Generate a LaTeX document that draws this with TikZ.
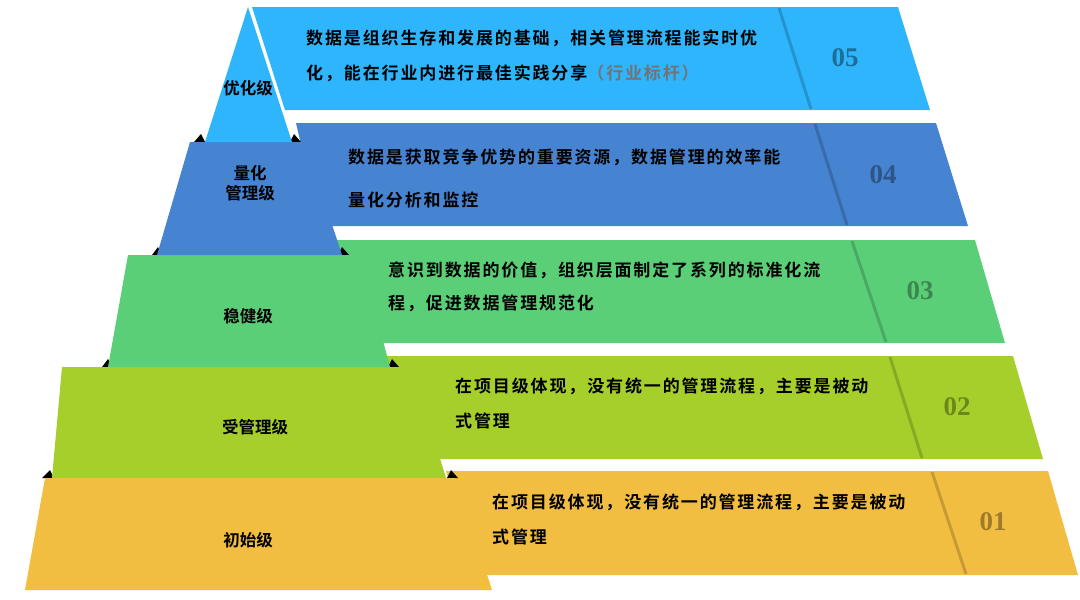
\documentclass[tikz,border=0pt]{standalone}
\usepackage{fontspec}
\newfontfamily\cjk{Noto Sans CJK SC}[BoldFont={Noto Sans CJK SC Bold}]
\newfontfamily\cjksp{Noto Sans CJK SC}[BoldFont={Noto Sans CJK SC Bold},LetterSpace=11]
\setmainfont{Liberation Serif}
\begin{document}
\begin{tikzpicture}[x=1pt,y=-1pt,
  txt/.style={anchor=west,inner sep=0pt,font=\cjksp\bfseries\fontsize{17}{18}\selectfont,text=black},
  lvl/.style={inner sep=0pt,font=\cjk\bfseries\fontsize{16.5}{20}\selectfont,align=center,text=black},
  num/.style={inner sep=0pt,font=\bfseries\fontsize{27}{30}\selectfont},
  divsh/.style={line width=3pt,black,opacity=0.18}]
\definecolor{c5}{HTML}{2EB5FC}\definecolor{c4}{HTML}{4683D0}
\definecolor{c3}{HTML}{5BCF78}\definecolor{c2}{HTML}{A6CF2B}\definecolor{c1}{HTML}{F2BE42}
\useasboundingbox (0,0) rectangle (1080,600);
% bands
\fill[c5] (252,7) -- (898,7) -- (930,110) -- (285,110) -- cycle;
\draw[divsh] (779,8) -- (811,109);
\fill[c4] (296,123) -- (936,123) -- (968,226) -- (320,226) -- cycle;
\draw[divsh] (815,124) -- (847,225);
\fill[c3] (336,240) -- (975,240) -- (1005,343) -- (365,343) -- cycle;
\draw[divsh] (852,241) -- (886,342);
\fill[c2] (386,356) -- (1013,356) -- (1043,459) -- (420,459) -- cycle;
\draw[divsh] (890,357) -- (922,458);
\fill[c1] (446,471) -- (1048,471) -- (1078,575) -- (475,575) -- cycle;
\draw[divsh] (932,472) -- (966,574);
% pyramid shadows
\fill[black] (152,255) -- (158,247) -- (162,255) -- cycle;
\fill[black] (338,255) -- (342,247) -- (349,255) -- cycle;
\fill[black] (102,367) -- (108,359) -- (113,367) -- cycle;
\fill[black] (388,367) -- (392,359) -- (399,367) -- cycle;
\fill[black] (42,478) -- (50,470) -- (54,478) -- cycle;
\fill[black] (447,478) -- (451,470) -- (458,478) -- cycle;
\fill[black] (194,142) -- (201,134) -- (205,142) -- cycle;
\fill[black] (290,142) -- (294,134) -- (301,142) -- cycle;
% pyramid
\fill[c1] (45,478) -- (456,478) -- (492,590) -- (25,590) -- cycle;
\fill[c2] (62,367) -- (412,367) -- (446,478) -- (52,478) -- cycle;
\fill[c3] (128,255) -- (360,255) -- (390,367) -- (108,367) -- cycle;
\fill[c4] (190,142) -- (305,142) -- (342,255) -- (157,255) -- cycle;
\fill[c5] (248,7) -- (292,142) -- (205,142) -- cycle;
% level labels
\node[lvl] (l5) at (248,88) {优化级};
\node[lvl] (l4) at (250,183) {量化\\管理级};
\node[lvl] (l3) at (248,316) {稳健级};
\node[lvl] (l2) at (255,427) {受管理级};
\node[lvl] (l1) at (248,540) {初始级};
% band texts
\node[txt] (t5a) at (306,38) {数据是组织生存和发展的基础，相关管理流程能实时优};
\node[txt] (t5b) at (306,73) {化，能在行业内进行最佳实践分享\textcolor{black!55}{（行业标杆）}};
\node[txt] (t4a) at (348,157) {数据是获取竞争优势的重要资源，数据管理的效率能};
\node[txt] (t4b) at (348,200) {量化分析和监控};
\node[txt] (t3a) at (388,270) {意识到数据的价值，组织层面制定了系列的标准化流};
\node[txt] (t3b) at (388,303) {程，促进数据管理规范化};
\node[txt] (t2a) at (455,386) {在项目级体现，没有统一的管理流程，主要是被动};
\node[txt] (t2b) at (455,421) {式管理};
\node[txt] (t1a) at (492,502) {在项目级体现，没有统一的管理流程，主要是被动};
\node[txt] (t1b) at (492,537) {式管理};
% numbers
\node[num,text=c5!60!black] (n5) at (845,58) {05};
\node[num,text=c4!65!black] (n4) at (883,175) {04};
\node[num,text=c3!65!black] (n3) at (920,291) {03};
\node[num,text=c2!65!black] (n2) at (957,407) {02};
\node[num,text=c1!65!black] (n1) at (993,522) {01};
\end{tikzpicture}
\end{document}
